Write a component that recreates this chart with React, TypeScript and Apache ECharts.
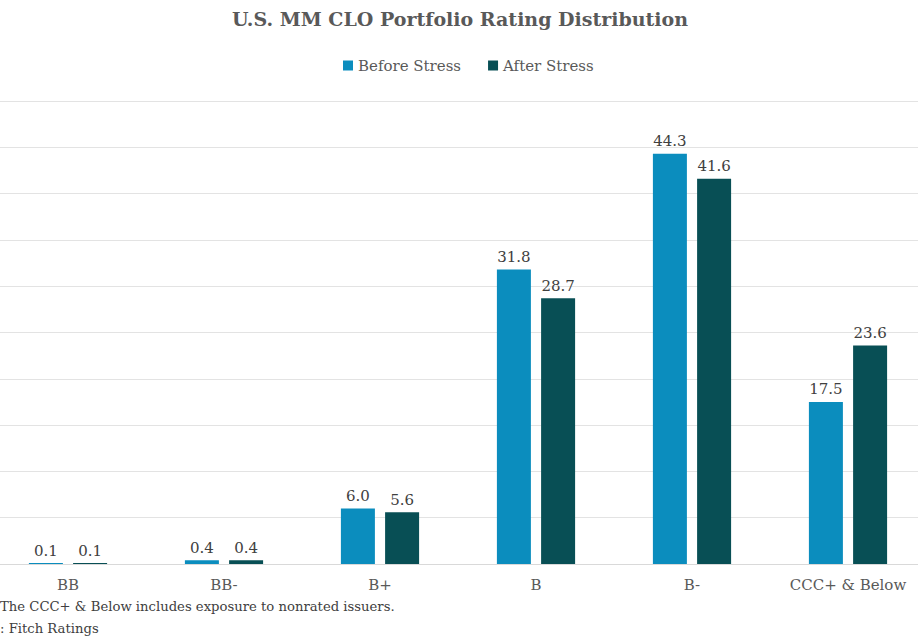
import React, { useEffect, useRef } from "react";
import * as echarts from "echarts";

const categories = ["BB", "BB-", "B+", "B", "B-", "CCC+ & Below"];
const beforeStress = [0.1, 0.4, 6.0, 31.8, 44.3, 17.5];
const afterStress = [0.1, 0.4, 5.6, 28.7, 41.6, 23.6];
const seriesNames = ["Before Stress", "After Stress"];
const titleText = "U.S. MM CLO Portfolio Rating Distribution";
const noteLines = [
  "The CCC+ & Below includes exposure to nonrated issuers.",
  ": Fitch Ratings",
];

const FONT = "DejaVu Serif";
const OFFSET = 10; // the chart is wider than the page and shifted left

export default function App() {
  const ref = useRef<HTMLDivElement>(null);
  useEffect(() => {
    if (!ref.current) return;
    const chart = echarts.init(ref.current, undefined, { renderer: "svg" });
    const label = {
      show: true,
      position: "top" as const,
      distance: 5,
      fontFamily: FONT,
      fontSize: 15,
      color: "#404040",
      formatter: (p: any) => Number(p.value).toFixed(1),
    };
    chart.setOption({
      animation: false,
      backgroundColor: "#ffffff",
      title: {
        text: titleText,
        left: 455 + OFFSET,
        textAlign: "center",
        top: 4,
        textStyle: { fontFamily: FONT, fontSize: 19, fontWeight: "bold", color: "#595959" },
      },
      legend: {
        top: 53,
        left: 338 + OFFSET,
        itemWidth: 10,
        itemHeight: 10,
        itemGap: 27,
        icon: "rect",
        textStyle: { fontFamily: FONT, fontSize: 15, color: "#595959" },
        data: seriesNames,
      },
      grid: { left: 0, right: 0, top: 101, bottom: 78 },
      xAxis: {
        type: "category",
        data: categories,
        axisLine: { lineStyle: { color: "#d9d9d9", width: 1 } },
        axisTick: { show: false },
        axisLabel: { fontFamily: FONT, fontSize: 15, color: "#595959", margin: 13 },
      },
      yAxis: {
        type: "value",
        min: 0,
        max: 50,
        interval: 5,
        axisLabel: { show: false },
        axisLine: { show: false },
        axisTick: { show: false },
        splitLine: { lineStyle: { color: "#e3e3e3", width: 1 } },
      },
      series: [
        {
          name: seriesNames[0],
          type: "bar",
          data: beforeStress,
          barWidth: 34,
          barGap: "30%",
          itemStyle: { color: "#0B8DBE" },
          label,
        },
        {
          name: seriesNames[1],
          type: "bar",
          data: afterStress,
          barWidth: 34,
          itemStyle: { color: "#084F55" },
          label,
        },
      ],
      graphic: [
        {
          type: "text",
          left: OFFSET,
          top: 600,
          style: { text: noteLines[0], fontFamily: FONT, fontSize: 13.2, fill: "#404040" },
        },
        {
          type: "text",
          left: OFFSET,
          top: 622,
          style: { text: noteLines[1], fontFamily: FONT, fontSize: 13.2, fill: "#404040" },
        },
      ],
    });
    return () => chart.dispose();
  }, []);
  return (
    <div
      ref={ref}
      style={{ position: "absolute", left: -OFFSET, top: 0, width: 918 + 18, height: 642 }}
    />
  );
}
